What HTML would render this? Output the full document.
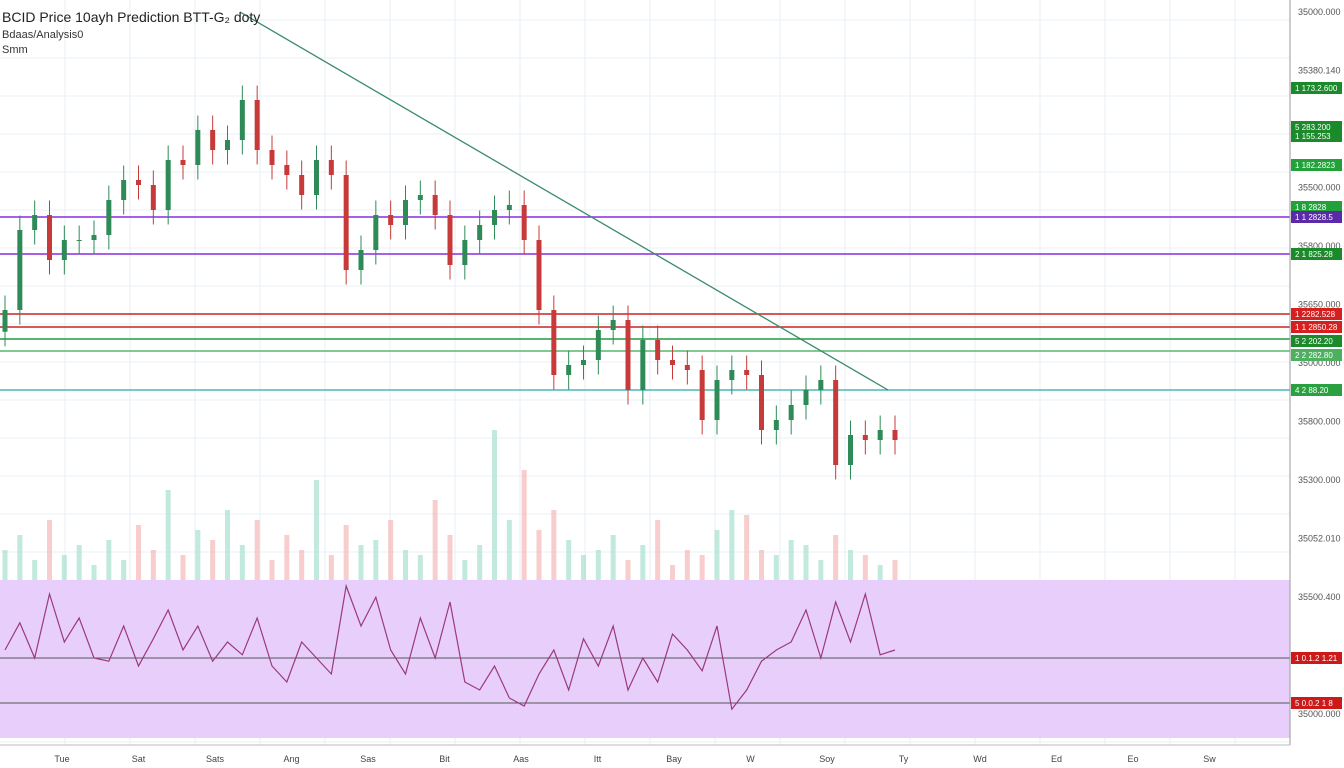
<!DOCTYPE html>
<html><head><meta charset="utf-8"><style>
body{margin:0;background:#fff;font-family:"Liberation Sans",sans-serif}
#c{position:absolute;left:0;top:0}
</style></head><body>
<svg id="c" width="1344" height="768">
<g id="grid"></g>
<rect x="0" y="580" width="1290" height="158" fill="#e8cffb"/>
<g id="vol"></g>
<g id="lvl"></g>
<g id="candles"></g>
<line x1="240" y1="12" x2="888" y2="390" stroke="#3a8a6a" stroke-width="1.3"/>
<g id="rsi"></g>
<line x1="1290" y1="0" x2="1290" y2="745" stroke="#999"/>
<line x1="0" y1="745" x2="1290" y2="745" stroke="#bbb"/>
<g id="axis"></g>
<g id="xaxis"></g>
<text x="2" y="22" font-size="14" fill="#222">BCID Price 10ayh Prediction BTT-G₂ doty</text>
<text x="2" y="38" font-size="11" fill="#333">Bdaas/Analysis0</text>
<text x="2" y="53" font-size="11" fill="#333">Smm</text>
</svg>
<script>
const closes=[58610,64130,65165,62060,63440,63440,63785,66200,67580,67235,65510,68960,68615,71030,69650,70340,73100,69650,68615,67925,66545,68960,67925,61370,62750,65165,64475,66200,66545,65165,61715,63440,64475,65510,65855,63440,58610,54125,54815,55160,57230,57920,53090,56540,55160,54815,54470,51020,53780,54470,54125,50330,51020,52055,53090,53780,47915,49985,49640,50330,49640];
const volumes=[30,45,20,60,25,35,15,40,20,55,30,90,25,50,40,70,35,60,20,45,30,100,25,55,35,40,60,30,25,80,45,20,35,150,60,110,50,70,40,25,30,45,20,35,60,15,30,25,50,70,65,30,25,40,35,20,45,30,25,15,20];
const rsiVals=[55,72,50,90,60,75,50,48,70,45,62,80,55,70,48,60,52,75,45,35,60,50,40,95,70,88,55,40,75,50,85,35,30,45,25,20,40,55,30,62,45,70,30,50,35,65,55,42,70,18,30,48,55,60,80,50,85,60,90,52,55];
const levels=[[217,'#8a2be2'],[254,'#8a2be2'],[314,'#cc2222'],[327,'#cc2222'],[339,'#1e9e3a'],[351,'#57b86a'],[390,'#49b8b8']];
const axisLabels=['35000.000','35380.140','35000.000','35500.000','35800.000','35650.000','35000.000','35800.000','35300.000','35052.010','35500.400','35600.600','35000.000'];
const tags=[[88,'#1a8a2a','1 173.2.600'],[127,'#1a8a2a','5 283.200'],[136,'#1a8a2a','1 155.253'],[165,'#22a03a','1 182.2823'],[207,'#22a03a','1 8 2828'],[217,'#5a2aa8','1 1 2828.5'],[254,'#1a8a2a','2 1 825.28'],[314,'#d62020','1 2282.528'],[327,'#d62020','1 1 2850.28'],[341,'#1a8a2a','5 2 202.20'],[355,'#4cb060','2 2 282.80'],[390,'#2aa040','4 2 88.20'],[658,'#cc1a1a','1 0.1.2 1.21'],[703,'#cc1a1a','5 0.0.2 1 8']];
const xLabels=['Tue','Sat','Sats','Ang','Sas','Bit','Aas','Itt','Bay','W','Soy','Ty','Wd','Ed','Eo','Sw'];
const NS='http://www.w3.org/2000/svg';
function mk(t,a,p){const e=document.createElementNS(NS,t);for(const k in a)e.setAttribute(k,a[k]);p.appendChild(e);return e;}
const yP=v=>(80000-v)/69;
const xC=i=>5+i*(890/(closes.length-1));
const g=document.getElementById('grid');
for(let x=65;x<1290;x+=65){const l=mk('line',{x1:x,y1:0,x2:x,y2:745,stroke:'#e8eff4'},g);}
for(let y=20;y<745;y+=38){const l=mk('line',{x1:0,y1:y,x2:1290,y2:y,stroke:'#ebf0f4'},g);}
const vg=document.getElementById('vol');
volumes.forEach((v,i)=>{const up=i===0||closes[i]>=closes[i-1];const r=mk('rect',{x:xC(i)-2.5,y:580-v,width:5,height:v,fill:up?'#a8e0d0':'#f4b8b8',opacity:0.7},vg);});
const lg=document.getElementById('lvl');
levels.forEach(([y,c])=>{const l=mk('line',{x1:0,y1:y,x2:1290,y2:y,stroke:c,'stroke-width':1.6},lg);});
[658,703].forEach(y=>{const l=mk('line',{x1:0,y1:y,x2:1290,y2:y,stroke:'#555','stroke-width':1},lg);});
const cg=document.getElementById('candles');
closes.forEach((c,i)=>{const o=i?closes[i-1]:c-1500;const up=c>=o;const col=up?'#2e8b57':'#c83a3a';const x=xC(i);
const hi=Math.max(o,c)+1000,lo=Math.min(o,c)-1000;
const w=mk('line',{x1:x,y1:yP(hi),x2:x,y2:yP(lo),stroke:col},cg);
const b=mk('rect',{x:x-2.5,y:yP(Math.max(o,c)),width:5,height:Math.max(1,Math.abs(yP(o)-yP(c))),fill:col},cg);});
const rg=document.getElementById('rsi');
const rsiY=v=>738-v*1.6;
const pts=rsiVals.map((v,i)=>xC(i)+','+rsiY(v)).join(' ');
const pl=mk('polyline',{points:pts,fill:'none',stroke:'#9a3a7a','stroke-width':1.2},rg);
const ag=document.getElementById('axis');
axisLabels.forEach((s,i)=>{const y=15+i*58.5;const t=mk('text',{x:1298,y:y,'font-size':9,fill:'#555'},ag);t.textContent=s;});
tags.forEach(([y,c,s])=>{const r=mk('rect',{x:1291,y:y-6,width:51,height:12,fill:c},ag);
const t=mk('text',{x:1295,y:y+3,'font-size':8,fill:'#fff'},ag);t.textContent=s;});
const xg=document.getElementById('xaxis');
xLabels.forEach((s,i)=>{const x=62+i*76.5;const t=mk('text',{x:x,y:762,'font-size':9,fill:'#444','text-anchor':'middle'},xg);t.textContent=s;});
</script>
</body></html>
